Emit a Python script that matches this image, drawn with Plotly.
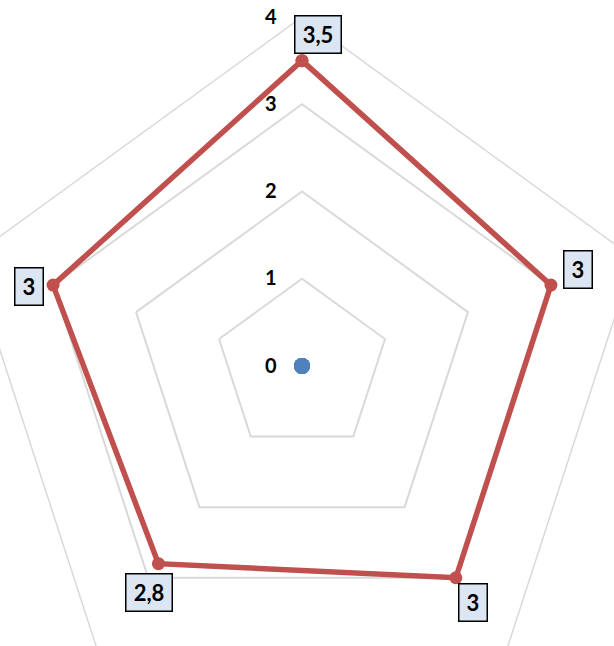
import math
import plotly.graph_objects as go

# ---- data ----
categories = ["K1", "K2", "K3", "K4", "K5"]
series_main = [3.5, 3.0, 3.0, 2.8, 3.0]
series_base = [0, 0, 0, 0, 0]
tick_values = [0, 1, 2, 3, 4]
tick_labels = ["0", "1", "2", "3", "4"]

RED = "#c0504d"
BLUE = "#4f81bd"
GRID = "#d9d9d9"
FONT = "Lato"

W = H = 818
M = 60
RMAX = 4

fig = go.Figure()
fig.add_trace(go.Scatterpolar(
    r=series_main + series_main[:1],
    theta=categories + categories[:1],
    mode="lines+markers",
    line=dict(color=RED, width=5.5),
    marker=dict(color=RED, size=13),
    showlegend=False,
    cliponaxis=False,
    subplot="polar",
))
# second series (all zeros) drawn on an invisible twin polar with a circular frame
fig.add_trace(go.Scatterpolar(
    r=series_base,
    theta=categories,
    mode="markers",
    marker=dict(color=BLUE, size=16),
    showlegend=False,
    cliponaxis=False,
    subplot="polar2",
))

# data label boxes (placed relative to each point's polar position)
label_shift = [(15.5, 26), (27, 15.5), (17, -25), (-9.5, -29), (-24.5, -1.5)]
annotations = []
n = len(categories)
for i, v in enumerate(series_main):
    th = 2 * math.pi * i / n
    px = 0.5 + 0.5 * (v / RMAX) * math.sin(th)
    py = 0.5 + 0.5 * (v / RMAX) * math.cos(th)
    txt = (f"{v:g}").replace(".", ",")
    annotations.append(dict(
        x=px, y=py, xref="paper", yref="paper",
        text=txt, showarrow=False,
        xshift=label_shift[i][0], yshift=label_shift[i][1],
        font=dict(family=FONT, size=22, color="black", weight="bold"),
        bgcolor="#dce6f2", bordercolor="black", borderwidth=1.5, borderpad=0,
        width=27 if len(txt) == 1 else 45, height=36,
        xanchor="center", yanchor="middle",
    ))

fig.update_layout(
    width=W, height=H,
    margin=dict(l=M, r=M, t=M, b=M),
    paper_bgcolor="white",
    plot_bgcolor="white",
    showlegend=False,
    annotations=annotations,
    polar=dict(
        domain=dict(x=[0, 1], y=[0, 1]),
        bgcolor="white",
        gridshape="linear",
        radialaxis=dict(
            range=[0, RMAX],
            tickvals=tick_values,
            ticktext=tick_labels,
            angle=90,
            tickangle=90,
            side="counterclockwise",
            showline=False,
            showgrid=True,
            gridcolor=GRID,
            gridwidth=1.5,
            ticks="outside",
            ticklen=18,
            tickcolor="rgba(0,0,0,0)",
            tickfont=dict(family=FONT, size=20, color="black", weight="bold"),
        ),
        angularaxis=dict(
            rotation=90,
            direction="clockwise",
            showticklabels=False,
            ticks="",
            showgrid=False,
            showline=True,
            linecolor=GRID,
            linewidth=1.5,
        ),
    ),
    polar2=dict(
        domain=dict(x=[0, 1], y=[0, 1]),
        bgcolor="rgba(0,0,0,0)",
        gridshape="circular",
        radialaxis=dict(range=[0, RMAX], visible=False),
        angularaxis=dict(rotation=90, direction="clockwise", visible=False),
    ),
)

post = (
    "var gd=document.getElementById('{plot_id}');"
    "document.documentElement.style.margin='0';"
    "document.documentElement.style.overflow='hidden';"
    "document.body.style.margin='0';"
    "document.body.style.overflow='hidden';"
    "var p=gd.parentElement;"
    "p.style.position='relative';p.style.width='614px';p.style.height='646px';"
    "p.style.overflow='hidden';"
    "gd.style.position='absolute';gd.style.left='-107px';gd.style.top='-43px';"
)

fig.write_html("out.html", post_script=post)
